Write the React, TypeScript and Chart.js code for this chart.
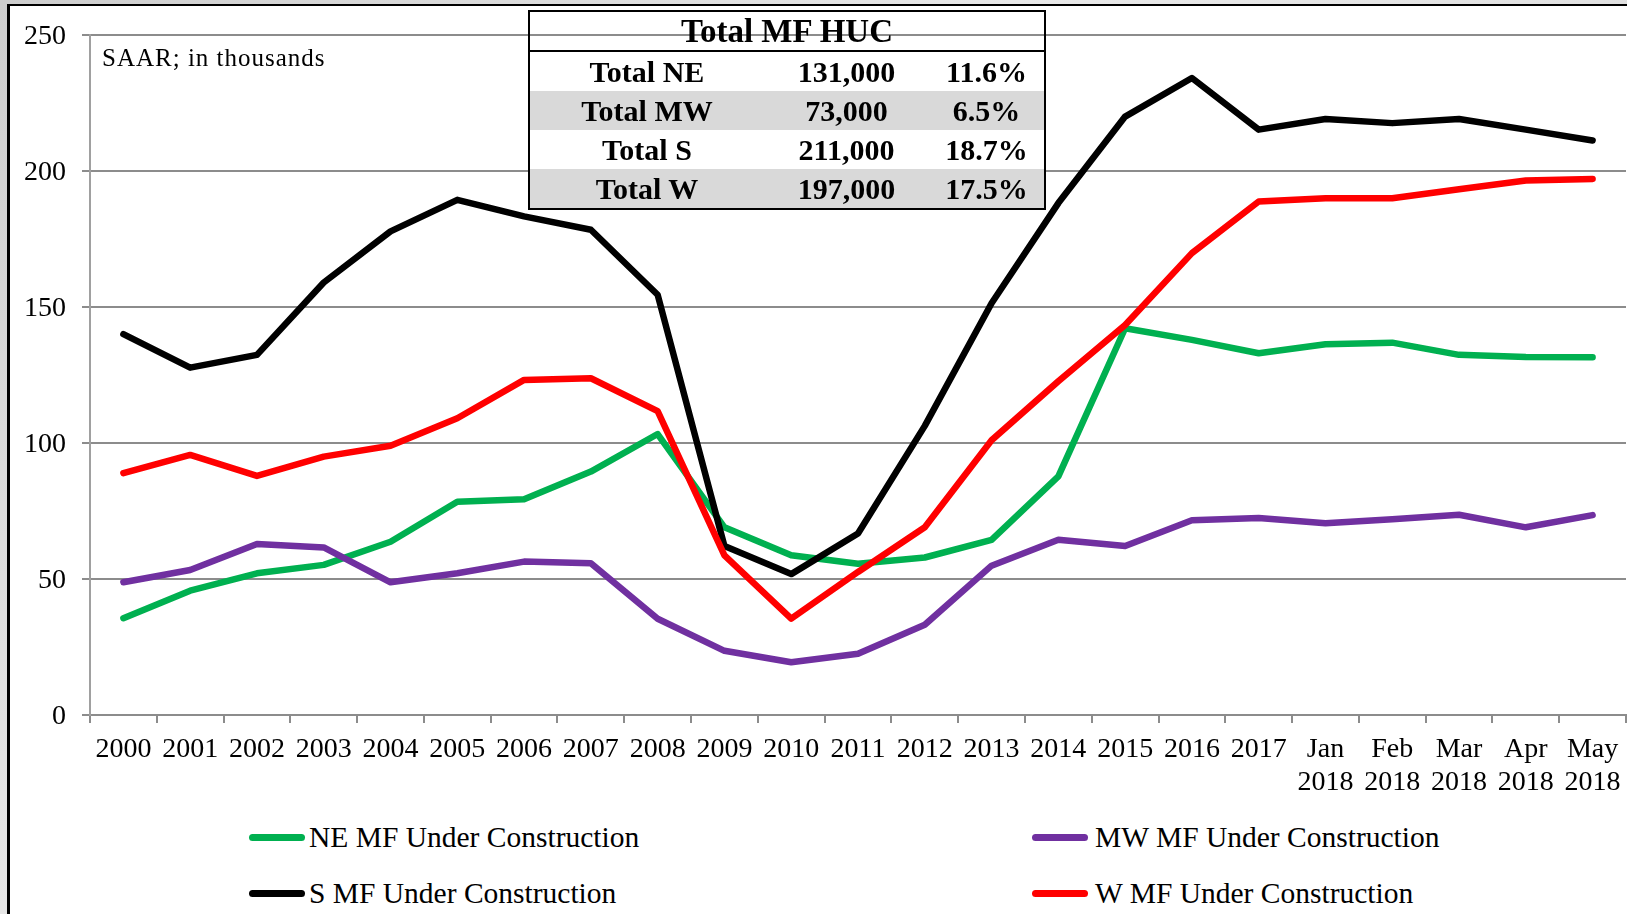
import React, { useEffect, useRef } from 'react';
import { Chart, registerables } from 'chart.js';

Chart.register(...registerables);

// ---------- data ----------
const categories: (string | string[])[] = [
  '2000', '2001', '2002', '2003', '2004', '2005', '2006', '2007', '2008', '2009',
  '2010', '2011', '2012', '2013', '2014', '2015', '2016', '2017',
  ['Jan', '2018'], ['Feb', '2018'], ['Mar', '2018'], ['Apr', '2018'], ['May', '2018'],
];

const neValues = [35.6, 45.7, 52.1, 55.2, 63.7, 78.4, 79.3, 89.5, 103.3, 69, 58.7, 55.6, 57.9, 64.4, 87.7, 142.2, 137.9, 133, 136.3, 136.9, 132.4, 131.6, 131.5];
const mwValues = [48.8, 53.3, 62.9, 61.6, 48.8, 52.1, 56.4, 55.8, 35.4, 23.6, 19.4, 22.5, 33.2, 54.9, 64.4, 62.1, 71.6, 72.4, 70.5, 72, 73.6, 69, 73.5];
const sValues = [140, 127.7, 132.4, 159, 177.8, 189.4, 183.3, 178.4, 154.5, 62.1, 51.8, 66.7, 106.3, 151.4, 188.2, 220, 234.2, 215.2, 219.1, 217.6, 219.1, 215.2, 211.2];
const wValues = [88.9, 95.6, 87.9, 95, 99, 109.1, 123.2, 123.8, 111.7, 58.7, 35.4, 52.6, 69, 101, 122.7, 143.4, 169.8, 188.8, 190, 190, 193.3, 196.5, 197.1];

const yMin = 0;
const yMax = 250;
const yStep = 50;

const seriesNames = ['NE MF Under Construction', 'MW MF Under Construction', 'S MF Under Construction', 'W MF Under Construction'];
const seriesColors = ['#00B050', '#7030A0', '#000000', '#FF0000'];

const tableTitle = 'Total MF HUC';
const tableLabels = ['Total NE', 'Total MW', 'Total S', 'Total W'];
const tableTotals = ['131,000', '73,000', '211,000', '197,000'];
const tableShares = ['11.6%', '6.5%', '18.7%', '17.5%'];

const noteText = 'SAAR; in thousands';

const SERIF = '"Liberation Serif", "Times New Roman", serif';

export default function App() {
  const canvasRef = useRef<HTMLCanvasElement | null>(null);

  useEffect(() => {
    const canvas = canvasRef.current;
    if (!canvas) return;
    const seriesValues = [neValues, mwValues, sValues, wValues];
    const chart = new Chart(canvas, {
      type: 'line',
      data: {
        labels: categories,
        datasets: seriesValues.map((vals, i) => ({
          label: seriesNames[i],
          data: vals,
          borderColor: seriesColors[i],
          backgroundColor: seriesColors[i],
          borderWidth: 6.5,
          borderCapStyle: 'round',
          borderJoinStyle: 'round',
          pointRadius: 0,
          pointHoverRadius: 0,
          tension: 0,
          fill: false,
          order: seriesValues.length - i,
        })),
      },
      options: {
        responsive: false,
        animation: false,
        devicePixelRatio: 1,
        layout: { padding: { top: 35, right: 1, left: 0, bottom: 0 } },
        plugins: {
          legend: { display: false },
          tooltip: { enabled: false },
        },
        scales: {
          x: {
            type: 'category',
            offset: true,
            afterFit: (scale: any) => {
              scale.height = 85;
              scale.paddingRight = 0;
              scale.paddingLeft = 0;
            },
            grid: {
              offset: true,
              drawOnChartArea: false,
              drawTicks: true,
              tickLength: 8,
              color: '#8c8c8c',
              lineWidth: 2,
            },
            border: { display: true, color: '#8c8c8c', width: 2 },
            ticks: {
              autoSkip: false,
              maxRotation: 0,
              minRotation: 0,
              padding: 11,
              color: '#000',
              font: { family: SERIF, size: 28, lineHeight: 1.15 },
            },
          },
          y: {
            min: yMin,
            max: yMax,
            afterFit: (scale: any) => { scale.width = 90; },
            grid: {
              color: '#8c8c8c',
              lineWidth: 2,
              tickLength: 8,
              drawTicks: true,
            },
            border: { display: true, color: '#a0a0a0', width: 2 },
            ticks: {
              stepSize: yStep,
              padding: 16,
              labelOffset: 2,
              color: '#000',
              font: { family: SERIF, size: 28 },
            },
          },
        },
      },
    });
    return () => chart.destroy();
  }, []);

  const legendItems = [
    { idx: 0, lineLeft: 249, textLeft: 309, cy: 837 },
    { idx: 1, lineLeft: 1032, textLeft: 1095, cy: 837 },
    { idx: 2, lineLeft: 249, textLeft: 309, cy: 893 },
    { idx: 3, lineLeft: 1032, textLeft: 1095, cy: 893 },
  ];

  const colW = [234, 165, 115];
  const rowH = 39;

  return (
    <div style={{ position: 'fixed', left: 0, top: 0, width: 1627, height: 914, overflow: 'hidden', background: 'linear-gradient(135deg, #cdcdcd, #e9e9e9 40%, #d4d4d4)' }}>
      <div style={{ position: 'absolute', left: 7, top: 4, right: -10, bottom: -10, background: '#fff', borderLeft: '3px solid #000', borderTop: '2px solid #000' }} />
      <canvas ref={canvasRef} width={1627} height={800} style={{ position: 'absolute', left: 0, top: 0, width: 1627, height: 800 }} />

      <div style={{ position: 'absolute', left: 102, top: 43, fontFamily: SERIF, fontSize: 25, lineHeight: '30px', letterSpacing: 1, color: '#000', whiteSpace: 'nowrap' }}>{noteText}</div>

      <div style={{ position: 'absolute', left: 528, top: 10, width: 518, boxSizing: 'border-box', border: '2px solid #000', fontFamily: SERIF, fontWeight: 'bold', color: '#000' }}>
        <div style={{ height: 38, lineHeight: '38px', textAlign: 'center', fontSize: 33, borderBottom: '2px solid #000' }}>{tableTitle}</div>
        {tableLabels.map((lab, r) => (
          <div key={lab} style={{ display: 'flex', height: rowH, background: r % 2 === 1 ? '#d9d9d9' : '#ffffff', fontSize: 30, lineHeight: rowH + 'px' }}>
            <div style={{ width: colW[0], textAlign: 'center' }}>{lab}</div>
            <div style={{ width: colW[1], textAlign: 'center' }}>{tableTotals[r]}</div>
            <div style={{ flex: 1, textAlign: 'center' }}>{tableShares[r]}</div>
          </div>
        ))}
      </div>

      {legendItems.map((it) => (
        <React.Fragment key={it.idx}>
          <div style={{ position: 'absolute', left: it.lineLeft, top: it.cy - 3.5, width: 56, height: 7, borderRadius: 3.5, background: seriesColors[it.idx] }} />
          <div style={{ position: 'absolute', left: it.textLeft, top: it.cy - 18, height: 36, lineHeight: '36px', fontFamily: SERIF, fontSize: 29.5, color: '#000', whiteSpace: 'nowrap' }}>{seriesNames[it.idx]}</div>
        </React.Fragment>
      ))}
    </div>
  );
}
